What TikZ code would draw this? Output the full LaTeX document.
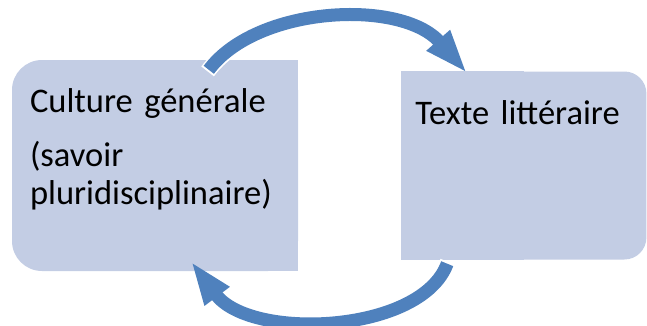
\documentclass[tikz,border=0pt]{standalone}
\usepackage{fontspec}
\setmainfont{Carlito}
\usetikzlibrary{arrows.meta, positioning, calc}
\definecolor{boxfill}{RGB}{195,205,228}
\definecolor{arrowblue}{RGB}{79,129,189}

\begin{document}
\begin{tikzpicture}[
        x=1pt, y=-1pt,
        box/.style={fill=boxfill, inner sep=0pt},
        lbl/.style={font=\fontsize{34.5}{38}\selectfont, inner sep=0pt, align=left, text width=#1},
        lbl/.default=275pt,
        cyc/.style={draw=arrowblue, line width=13pt, -{Triangle[length=44pt, width=28pt]},
            preaction={draw=white, line width=16pt, -, shorten <=-2pt, shorten >=32pt}}
    ]
        \useasboundingbox (0,0) rectangle (647,325);
        % --- Boxes ---
        \node[box, rounded corners=30pt, minimum width=286pt, minimum height=211pt] (cg) at (155,165.5) {};
        \fill[boxfill] (cg.north) rectangle (cg.south east);
        \node[box, rounded corners=22pt, minimum width=245pt, minimum height=188pt, right=103pt of cg] (tl) {};
        \fill[boxfill] (tl.north west) rectangle (tl.south);
        % --- Texts ---
        \node[lbl, below right=53pt and 18pt of cg.north west, anchor=base west] (cgtext)
            {Culture générale\\[16pt] (savoir\\ pluridisciplinaire)};
        \node[lbl=230pt, below right=53pt and 14pt of tl.north west, anchor=base west] (tltext)
            {Texte littéraire};
        % --- Arrow ends ---
        \coordinate (topstart) at ($(cg.north west)+(197,10)$);
        \coordinate (topend) at ($(tl.north west)+(66,2)$);
        \coordinate (botstart) at ($(tl.south west)+(46,4)$);
        \coordinate (botend) at ($(cg.south west)+(179,-10)$);
        % --- Cycle arrows ---
        \draw[cyc] (topstart) .. controls +(48,-64) and +(-66,-75) .. (topend);
        \draw[cyc] (botstart) .. controls +(-26,70) and +(60,80) .. (botend);
    \end{tikzpicture}
\end{document}
